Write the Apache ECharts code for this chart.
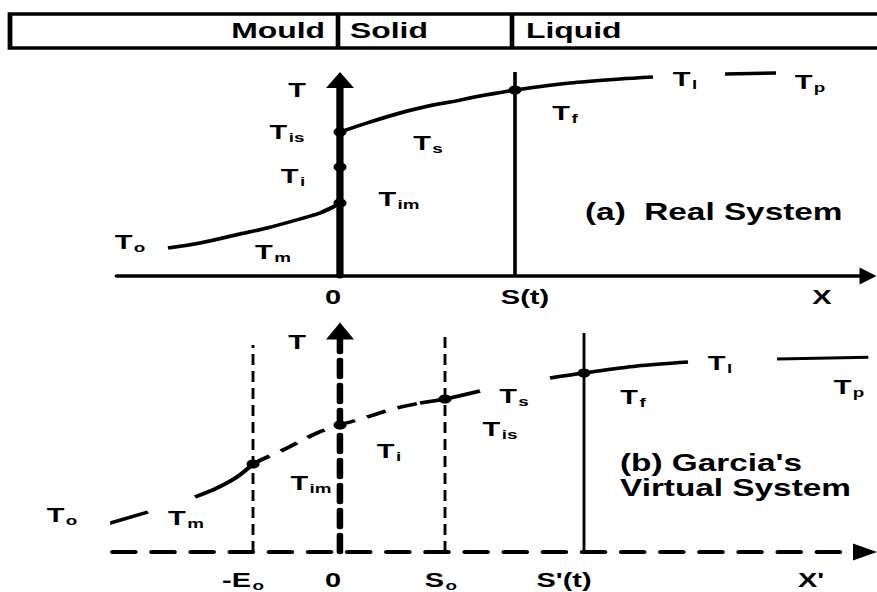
<!DOCTYPE html>
<html>
<head>
<meta charset="utf-8">
<title>Real and virtual solidification systems</title>
<script src="https://cdn.jsdelivr.net/npm/echarts@6/dist/echarts.min.js"></script>
<style>
  html, body { margin: 0; padding: 0; background: #fff; overflow: hidden; }
  /* the figure is laid out on a narrower canvas and widened horizontally */
  #chart { width: 605px; height: 592px; transform: scaleX(1.4496); transform-origin: 0 0; }
</style>
</head>
<body>
<div id="chart"></div>
<script>
// ---- zones of the casting ----
const zones = ['Mould', 'Solid', 'Liquid'];

// ---- (a) real system: position x (arbitrary units), temperature T ----
const mouldA   = [[-17.2, 2.8], [-14, 3.3], [-10, 4.2], [-7.3, 4.8], [-4, 5.7], [-2, 6.3], [-0.7, 6.9], [0, 7.3]];
const solidA   = [[0, 14.4], [2.7, 15.3], [6, 16.3], [9.3, 17.1], [11, 17.4], [14, 18.0], [17.5, 18.6]];
const liquidA  = [[17.5, 18.6], [23, 19.3], [28, 19.7], [31.3, 19.9]];
const pouringA = [[38.5, 20.2], [43.6, 20.3]];
const frontA   = [[17.5, 0], [17.5, 20.4]];
const nodesA   = [[0, 7.3], [0, 10.9], [0, 14.4], [17.5, 18.6]];

// ---- (b) Garcia's virtual system ----
const mouldOuterB = [[-24.3, 2.5], [-19.2, 4.0]];
const mouldInnerB = [[-14.5, 5.5], [-12.3, 6.4], [-10.3, 7.5], [-8.7, 8.8]];
const virtualB    = [[-8.7, 8.8], [-7.7, 9.3], [-5.7, 10.2], [-2.3, 11.9], [0, 12.7], [2.7, 13.5], [5.3, 14.3], [8, 14.9]];
const solidB      = [[8, 14.9], [10.5, 15.3], [14, 16.1]];
const liquidB     = [[21, 17.4], [24.4, 17.9], [29.7, 18.6], [34.8, 19.0]];
const pouringB    = [[43.7, 19.3], [53.7, 19.5]];
const originB     = [[-8.7, 0], [-8.7, 20.7]];
const solidStartB = [[10.5, 0], [10.5, 21.9]];
const frontB      = [[24.4, 0], [24.4, 21.9]];
const nodesB      = [[-8.7, 8.8], [0, 12.7], [10.5, 15.3], [24.4, 17.9]];

// ---- axis tick labels: [main, subscript] ----
const ticksA  = [-0.7, 18.5, 48.2];
const labelsA = [['0', ''], ['S(t)', ''], ['X', '']];
const ticksB  = [-9.7, -0.7, 10.1, 22.4, 47.1];
const labelsB = [['-E', 'o'], ['0', ''], ['S', 'o'], ["S'(t)", ''], ["X'", '']];

// ---- temperature annotations: [x, T, symbol, subscript] ----
const notesA = [
  [-4.3, 18.6, 'T', ''], [-5.3, 14.4, 'T', 'is'], [8.8, 13.3, 'T', 's'],
  [-4.7, 10.0, 'T', 'i'], [5.9, 7.7, 'T', 'im'], [-21, 3.4, 'T', 'o'],
  [-6.7, 2.4, 'T', 'm'], [22.5, 16.3, 'T', 'f'], [34.5, 19.7, 'T', 'l'],
  [47, 19.4, 'T', 'p']
];
const notesB = [
  [-4.3, 21.0, 'T', ''], [-2.9, 6.9, 'T', 'im'], [4.9, 10.1, 'T', 'i'],
  [-27.8, 3.7, 'T', 'o'], [-15.4, 3.4, 'T', 'm'], [17.4, 15.6, 'T', 's'],
  [16.0, 12.3, 'T', 'is'], [29.3, 15.5, 'T', 'f'], [38.0, 18.9, 'T', 'l'],
  [50.9, 16.5, 'T', 'p']
];
const titleA = [[24.5, 6.4, '(a)  Real System']];
const titleB = [[28.0, 7.7, "(b) Garcia's\nVirtual System"]];

// ---------------------------------------------------------------
const S = 877 / 605;            // horizontal widening of the canvas
const px = v => v / S;          // screen x -> layout x
const FONT = '"Liberation Sans", Arial, Helvetica, sans-serif';
const INK = '#000';
const NO_BORDER = { textBorderWidth: 0, textBorderColor: 'transparent', textShadowBlur: 0 };

const rich = {
  b: Object.assign({ fontSize: 20, fontWeight: 'bold', fontFamily: FONT, color: INK }, NO_BORDER),
  s: Object.assign({ fontSize: 13, fontWeight: 'bold', fontFamily: FONT, color: INK,
       verticalAlign: 'bottom', padding: [0, 0, -2, 1] }, NO_BORDER)
};
const richText = (main, sub) => '{b|' + main + '}' + (sub ? '{s|' + sub + '}' : '');

function curve(idx, data, width, type, smooth) {
  return {
    type: 'line', xAxisIndex: idx, yAxisIndex: idx, data: data,
    smooth: smooth === undefined ? 0.3 : smooth, symbol: 'none', clip: false, silent: true,
    lineStyle: { color: INK, width: width, type: type || 'solid', cap: 'butt', opacity: 1 }, z: 3
  };
}
function nodes(idx, data) {
  return {
    type: 'scatter', xAxisIndex: idx, yAxisIndex: idx, data: data, clip: false, silent: true,
    symbol: 'circle', symbolSize: 9, itemStyle: { color: INK, opacity: 1 }, z: 5
  };
}
function notes(idx, list) {
  return {
    type: 'scatter', xAxisIndex: idx, yAxisIndex: idx, clip: false, silent: true, symbolSize: 0,
    itemStyle: { color: INK, opacity: 1 },
    data: list.map(n => ({ value: [n[0], n[1]], main: n[2], sub: n[3] })),
    label: Object.assign({
      show: true, position: 'inside', align: 'center', verticalAlign: 'middle', color: INK, opacity: 1,
      formatter: p => richText(p.data.main, p.data.sub), rich: rich
    }, NO_BORDER), z: 6
  };
}
function title(idx, list) {
  return {
    type: 'scatter', xAxisIndex: idx, yAxisIndex: idx, clip: false, silent: true, symbolSize: 0,
    itemStyle: { color: INK, opacity: 1 },
    data: list.map(n => ({ value: [n[0], n[1]], text: n[2] })),
    label: Object.assign({
      show: true, position: 'inside', align: 'left', verticalAlign: 'middle', opacity: 1,
      formatter: p => p.data.text, fontSize: 23, lineHeight: 25,
      fontWeight: 'bold', fontFamily: FONT, color: INK
    }, NO_BORDER), z: 6
  };
}
function xAxisOf(idx, min, max, ticks, labels, lineStyle, arrow, margin) {
  return {
    gridIndex: idx, type: 'value', min: min, max: max,
    splitLine: { show: false }, axisTick: { show: false },
    axisLine: { show: true, onZero: true, symbol: ['none', 'triangle'], symbolSize: arrow, lineStyle: lineStyle },
    axisLabel: {
      show: true, customValues: ticks, margin: margin, verticalAlign: 'middle', color: INK,
      formatter: v => { const i = ticks.indexOf(v); return i < 0 ? '' : richText(labels[i][0], labels[i][1]); },
      rich: rich
    }
  };
}
function yAxisOf(idx, max, lineStyle, arrow) {
  return {
    gridIndex: idx, type: 'value', min: 0, max: max,
    splitLine: { show: false }, axisTick: { show: false }, axisLabel: { show: false },
    axisLine: { show: true, onZero: true, symbol: ['none', 'triangle'], symbolSize: arrow, lineStyle: lineStyle }
  };
}

const chart = echarts.init(document.getElementById('chart'), null, { renderer: 'svg' });

const option = {
  backgroundColor: '#fff',
  animation: false,
  grid: [
    { left: px(117), right: px(9), top: 80, bottom: 316, containLabel: false, outerBoundsMode: 'none' },
    { left: px(113), right: px(12), top: 331, bottom: 40, containLabel: false, outerBoundsMode: 'none' }
  ],
  xAxis: [
    xAxisOf(0, -22.3, 52.8, ticksA, labelsA, { color: INK, width: 3.5 }, [17, px(17)], 21),
    xAxisOf(1, -22.7, 52.5, ticksB, labelsB, { color: INK, width: 4, type: [15, 12] }, [17, px(24)], 28)
  ],
  yAxis: [
    yAxisOf(0, 19.6, { color: INK, width: 5 }, [px(28), 16]),
    yAxisOf(1, 22.1, { color: INK, width: 4.5, type: [17, 8] }, [px(28), 17])
  ],
  graphic: [
    { type: 'rect', shape: { x: px(10), y: 14, width: px(900), height: 34 },
      style: { fill: '#fff', stroke: INK, lineWidth: 3.3 } },
    { type: 'line', shape: { x1: px(338), y1: 14, x2: px(338), y2: 48 }, style: { stroke: INK, lineWidth: 3.2 } },
    { type: 'line', shape: { x1: px(512), y1: 14, x2: px(512), y2: 48 }, style: { stroke: INK, lineWidth: 3.2 } },
    { type: 'text', x: px(325), y: 30, style: { text: zones[0], font: 'bold 22px ' + FONT, fill: INK,
      textAlign: 'right', align: 'right', textVerticalAlign: 'middle', verticalAlign: 'middle' } },
    { type: 'text', x: px(350), y: 30, style: { text: zones[1], font: 'bold 22px ' + FONT, fill: INK,
      textAlign: 'left', align: 'left', textVerticalAlign: 'middle', verticalAlign: 'middle' } },
    { type: 'text', x: px(526), y: 30, style: { text: zones[2], font: 'bold 22px ' + FONT, fill: INK,
      textAlign: 'left', align: 'left', textVerticalAlign: 'middle', verticalAlign: 'middle' } }
  ],
  series: [
    // (a) real system
    curve(0, mouldA, 3.5),
    curve(0, solidA, 3.5),
    curve(0, liquidA, 3.5),
    curve(0, pouringA, 3.5, 'solid', false),
    curve(0, frontA, 2.5, 'solid', false),
    nodes(0, nodesA),
    notes(0, notesA),
    title(0, titleA),
    // (b) virtual system
    curve(1, mouldOuterB, 3.5, 'solid', false),
    curve(1, mouldInnerB, 3.5),
    curve(1, virtualB, 3.5, [14, 9]),
    curve(1, solidB, 3.5),
    curve(1, liquidB, 3.5),
    curve(1, pouringB, 3, 'solid', false),
    curve(1, originB, 2, [11, 6], false),
    curve(1, solidStartB, 2, [11, 6], false),
    curve(1, frontB, 2, 'solid', false),
    nodes(1, nodesB),
    notes(1, notesB),
    title(1, titleB)
  ]
};
chart.setOption(option);
</script>
</body>
</html>
